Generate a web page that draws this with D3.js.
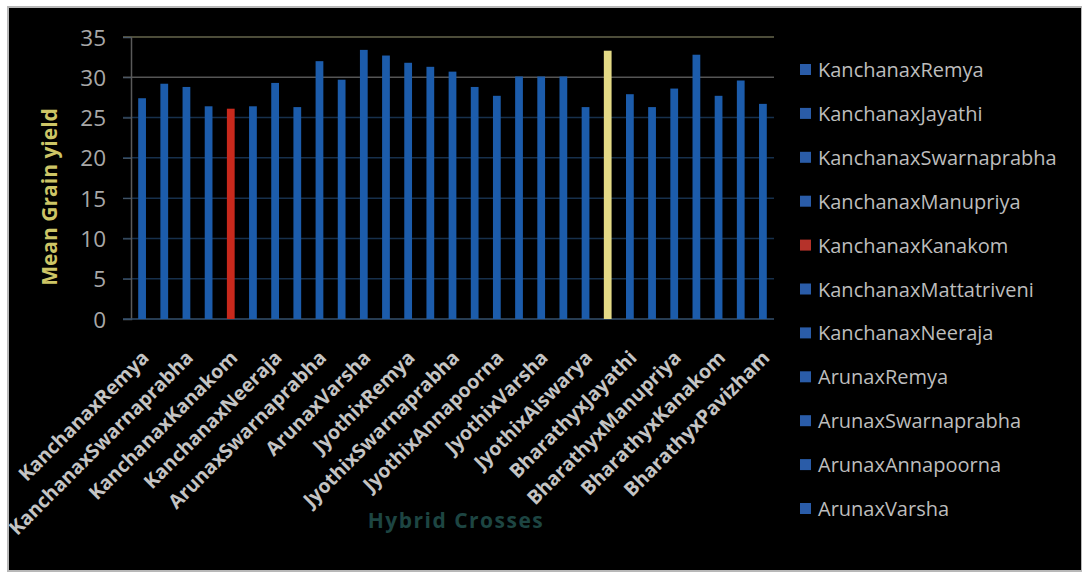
<!DOCTYPE html>
<html><head><meta charset="utf-8">
<script src="https://cdn.jsdelivr.net/npm/d3@7"></script>
<style>html,body{margin:0;padding:0;background:#fff;}svg{display:block;}</style>
</head><body>
<svg id="chart" width="1082" height="576"></svg>
<script>
const categories = ["KanchanaxRemya","KanchanaxJayathi","KanchanaxSwarnaprabha","KanchanaxManupriya","KanchanaxKanakom","KanchanaxMattatriveni","KanchanaxNeeraja","ArunaxRemya","ArunaxSwarnaprabha","ArunaxAnnapoorna","ArunaxVarsha","ArunaxAiswarya","JyothixRemya","JyothixJayathi","JyothixSwarnaprabha","JyothixManupriya","JyothixAnnapoorna","JyothixMattatriveni","JyothixVarsha","JyothixNeeraja","JyothixAiswarya","BharathyxRemya","BharathyxJayathi","BharathyxSwarnaprabha","BharathyxManupriya","BharathyxAnnapoorna","BharathyxKanakom","BharathyxVarsha","BharathyxPavizham"];
const values = [27.4,29.2,28.8,26.4,26.1,26.4,29.3,26.3,32.0,29.7,33.4,32.7,31.8,31.3,30.7,28.8,27.7,30.1,30.1,30.1,26.3,33.3,27.9,26.3,28.6,32.8,27.7,29.6,26.7];
const highlight = {"KanchanaxKanakom":"red","BharathyxRemya":"yellow"};
const yTicks = [0,5,10,15,20,25,30,35];
const legendItems = categories.slice(0,11);
const yTitle = "Mean Grain yield";
const xTitle = "Hybrid Crosses";

const colors = {blue:"#1c5cab", red:"#c8291c", yellow:"#e4da86"};
const legendColors = {blue:"#2a5ca8", red:"#b5322a"};

const svg = d3.select("#chart");
svg.append("rect").attr("x",8).attr("y",7).attr("width",1074).attr("height",564)
  .attr("fill","#000").attr("stroke","#b8b8b8").attr("stroke-width",2);

const x = d3.scaleBand().domain(categories).range([131,774]).paddingInner(0.65).paddingOuter(0.325);
const y = d3.scaleLinear().domain([0,35]).range([319,37]);

// gridlines
svg.append("g").selectAll("line").data(yTicks.filter(d=>d>0)).join("line")
  .attr("x1",123).attr("x2",774).attr("y1",d=>y(d)).attr("y2",d=>y(d))
  .attr("stroke",d=>d===35?"#66664c":(d===30?"#555":"#17304c")).attr("stroke-width",1.5);

// y axis
const yAxis = d3.axisLeft(y).tickValues(yTicks).tickSize(8).tickPadding(17);
const gy = svg.append("g").attr("transform","translate(131,0)").call(yAxis);
gy.select(".domain").attr("stroke","#5a5a5a").attr("stroke-width",1.5);
gy.selectAll(".tick line").attr("stroke","#4a5a6a");
gy.selectAll(".tick text").attr("fill","#a8a8a8").attr("font-family","Open Sans").attr("font-size",22.5).attr("dy","0.36em");

// baseline
svg.append("line").attr("x1",123).attr("x2",774).attr("y1",y(0)).attr("y2",y(0)).attr("stroke","#34506e").attr("stroke-width",1.5);

// bars
svg.append("g").selectAll("rect").data(categories).join("rect")
  .attr("x",d=>x(d)).attr("width",x.bandwidth())
  .attr("y",(d,i)=>y(values[i])).attr("height",(d,i)=>y(0)-y(values[i]))
  .attr("fill",d=>colors[highlight[d]||"blue"]);

// x labels (every other)
svg.append("g").selectAll("text").data(categories.filter((d,i)=>i%2===0)).join("text")
  .attr("transform",d=>`translate(${x(d)+x.bandwidth()/2+8},359) rotate(-45)`)
  .attr("text-anchor","end").attr("fill","#c4c4c4")
  .attr("font-family","Open Sans").attr("font-weight","bold").attr("font-size",19.5)
  .text(d=>d);

// y title
svg.append("text").attr("transform","translate(57,197) rotate(-90)")
  .attr("text-anchor","middle").attr("fill","#cdc566")
  .attr("font-family","Open Sans").attr("font-weight","bold").attr("font-size",21)
  .text(yTitle);

// x title
svg.append("text").attr("x",456).attr("y",528).attr("text-anchor","middle")
  .attr("fill","#1d4542").attr("font-family","Open Sans").attr("font-weight","bold").attr("font-size",21)
  .attr("letter-spacing",1.5)
  .text(xTitle);

// legend
const lg = svg.append("g").selectAll("g").data(legendItems).join("g")
  .attr("transform",(d,i)=>`translate(800,${70+i*43.9})`);
lg.append("rect").attr("x",0).attr("y",-6).attr("width",11).attr("height",11)
  .attr("fill",d=>legendColors[highlight[d]==="red"?"red":"blue"]);
lg.append("text").attr("x",18).attr("y",0).attr("dy","0.35em")
  .attr("fill","#bdbdbd").attr("font-family","Open Sans").attr("font-size",20)
  .text(d=>d);
</script>
</body></html>
